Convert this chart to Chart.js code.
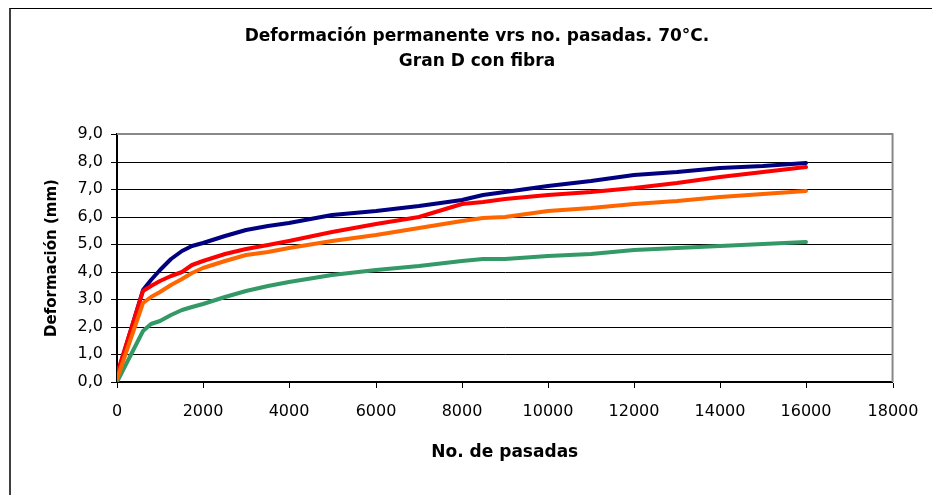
<!DOCTYPE html>
<html>
<head>
<meta charset="utf-8">
<title>Deformación permanente vrs no. pasadas</title>
<script src="https://cdn.jsdelivr.net/npm/chart.js@4.4.1/dist/chart.umd.min.js"></script>
<style>
  html, body { margin: 0; padding: 0; background: #fff; }
  #wrap { position: relative; width: 932px; height: 495px; overflow: hidden; }
  /* cropped outer chart frame */
  #frame {
    position: absolute; left: 9px; top: 8px; right: 0; bottom: 0;
    border-left: 2px solid #404040; border-top: 1px solid #000;
  }
  #chart { position: absolute; left: 0; top: 0; }
</style>
</head>
<body>
<div id="wrap">
  <div id="frame"></div>
  <canvas id="chart" width="932" height="495"></canvas>
</div>
<script>
// No. de pasadas (x)
const passes = [0, 600, 800, 1000, 1250, 1500, 1750, 2000, 2500, 3000, 3500,
  4000, 5000, 6000, 7000, 8000, 8500, 9000, 10000, 11000, 12000, 13000,
  14000, 15000, 16000];

// Deformación (mm), one array per curve
const defBlue = [0.2, 3.35, 3.7, 4.05, 4.45, 4.75, 4.95, 5.05, 5.3, 5.52, 5.65,
  5.78, 6.05, 6.22, 6.4, 6.6, 6.78, 6.88, 7.12, 7.3, 7.5, 7.62, 7.75, 7.85, 7.95];
const defRed = [0.3, 3.3, 3.5, 3.65, 3.85, 4.0, 4.25, 4.4, 4.65, 4.83, 4.98,
  5.12, 5.45, 5.75, 5.98, 6.45, 6.55, 6.65, 6.78, 6.9, 7.05, 7.22, 7.45, 7.62, 7.82];
const defOrange = [0.1, 2.85, 3.1, 3.28, 3.52, 3.72, 3.95, 4.13, 4.4, 4.6, 4.72,
  4.85, 5.1, 5.35, 5.58, 5.83, 5.94, 5.98, 6.2, 6.3, 6.45, 6.58, 6.7, 6.82, 6.93];
const defGreen = [0.0, 1.85, 2.1, 2.22, 2.43, 2.6, 2.72, 2.84, 3.08, 3.3, 3.48,
  3.64, 3.88, 4.05, 4.22, 4.4, 4.48, 4.47, 4.57, 4.63, 4.8, 4.85, 4.93, 5.02, 5.08];

// Tick labels
const xTickLabels = ["0", "2000", "4000", "6000", "8000", "10000", "12000",
  "14000", "16000", "18000"];
const yTickLabels = ["0,0", "1,0", "2,0", "3,0", "4,0", "5,0", "6,0", "7,0",
  "8,0", "9,0"];

const titleLines = ["Deformación permanente vrs no. pasadas. 70°C.", "Gran D con fibra"];

const FONT = "'DejaVu Sans', 'Liberation Sans', Arial, sans-serif";

function toPoints(ys) {
  return passes.map((x, i) => ({ x: x, y: ys[i] }));
}

function makeSeries(values, color, order) {
  return {
    data: toPoints(values),
    borderColor: color,
    backgroundColor: color,
    borderWidth: 4,
    borderJoinStyle: "round",
    borderCapStyle: "round",
    pointRadius: 0,
    tension: 0,
    fill: false,
    order: order,
  };
}

// gray top/right edge of the plot area, like the Excel plot frame
const plotFrame = {
  id: "plotFrame",
  afterDraw(chart) {
    const { ctx, chartArea } = chart;
    ctx.save();
    ctx.strokeStyle = "#888888";
    ctx.lineWidth = 2;
    ctx.beginPath();
    ctx.moveTo(chartArea.left, chartArea.top);
    ctx.lineTo(chartArea.right, chartArea.top);
    ctx.lineTo(chartArea.right, chartArea.bottom);
    ctx.stroke();
    ctx.restore();
  },
};

new Chart(document.getElementById("chart"), {
  type: "line",
  data: {
    datasets: [
      makeSeries(defBlue, "#000080", 3),
      makeSeries(defRed, "#ff0000", 1),
      makeSeries(defOrange, "#ff6600", 0),
      makeSeries(defGreen, "#339966", 2),
    ],
  },
  options: {
    responsive: false,
    animation: false,
    layout: { padding: { left: 61, right: 39, top: 0, bottom: 0 } },
    plugins: {
      legend: { display: false },
      tooltip: { enabled: false },
      title: {
        display: true,
        text: titleLines,
        color: "#000",
        font: { family: FONT, size: 17, weight: "bold", lineHeight: "25px" },
        padding: { top: 24, bottom: 60 },
      },
    },
    scales: {
      x: {
        type: "linear",
        min: 0,
        max: 18000,
        alignToPixels: true,
        afterFit: (scale) => { scale.height = 113; },
        ticks: {
          stepSize: 2000,
          color: "#000",
          padding: 14,
          maxRotation: 0,
          font: { family: FONT, size: 16 },
          callback: (value, index) => xTickLabels[index],
        },
        grid: { drawOnChartArea: false, drawTicks: true, tickLength: 6, color: "#000" },
        border: { color: "#000", width: 2 },
        title: {
          display: true,
          text: "No. de pasadas",
          color: "#000",
          font: { family: FONT, size: 17, weight: "bold" },
          padding: { top: 0, bottom: 32 },
        },
      },
      y: {
        min: 0,
        max: 9,
        alignToPixels: true,
        afterFit: (scale) => { scale.width = 56; },
        ticks: {
          stepSize: 1,
          color: "#000",
          padding: 8,
          font: { family: FONT, size: 16 },
          callback: (value, index) => yTickLabels[index],
        },
        grid: { color: "#000", lineWidth: 1, tickLength: 6 },
        border: { color: "#000", width: 2 },
        title: {
          display: true,
          text: "Deformación (mm)",
          color: "#000",
          font: { family: FONT, size: 15, weight: "bold" },
          padding: { top: -18, bottom: 0 },
        },
      },
    },
  },
  plugins: [plotFrame],
});
</script>
</body>
</html>
